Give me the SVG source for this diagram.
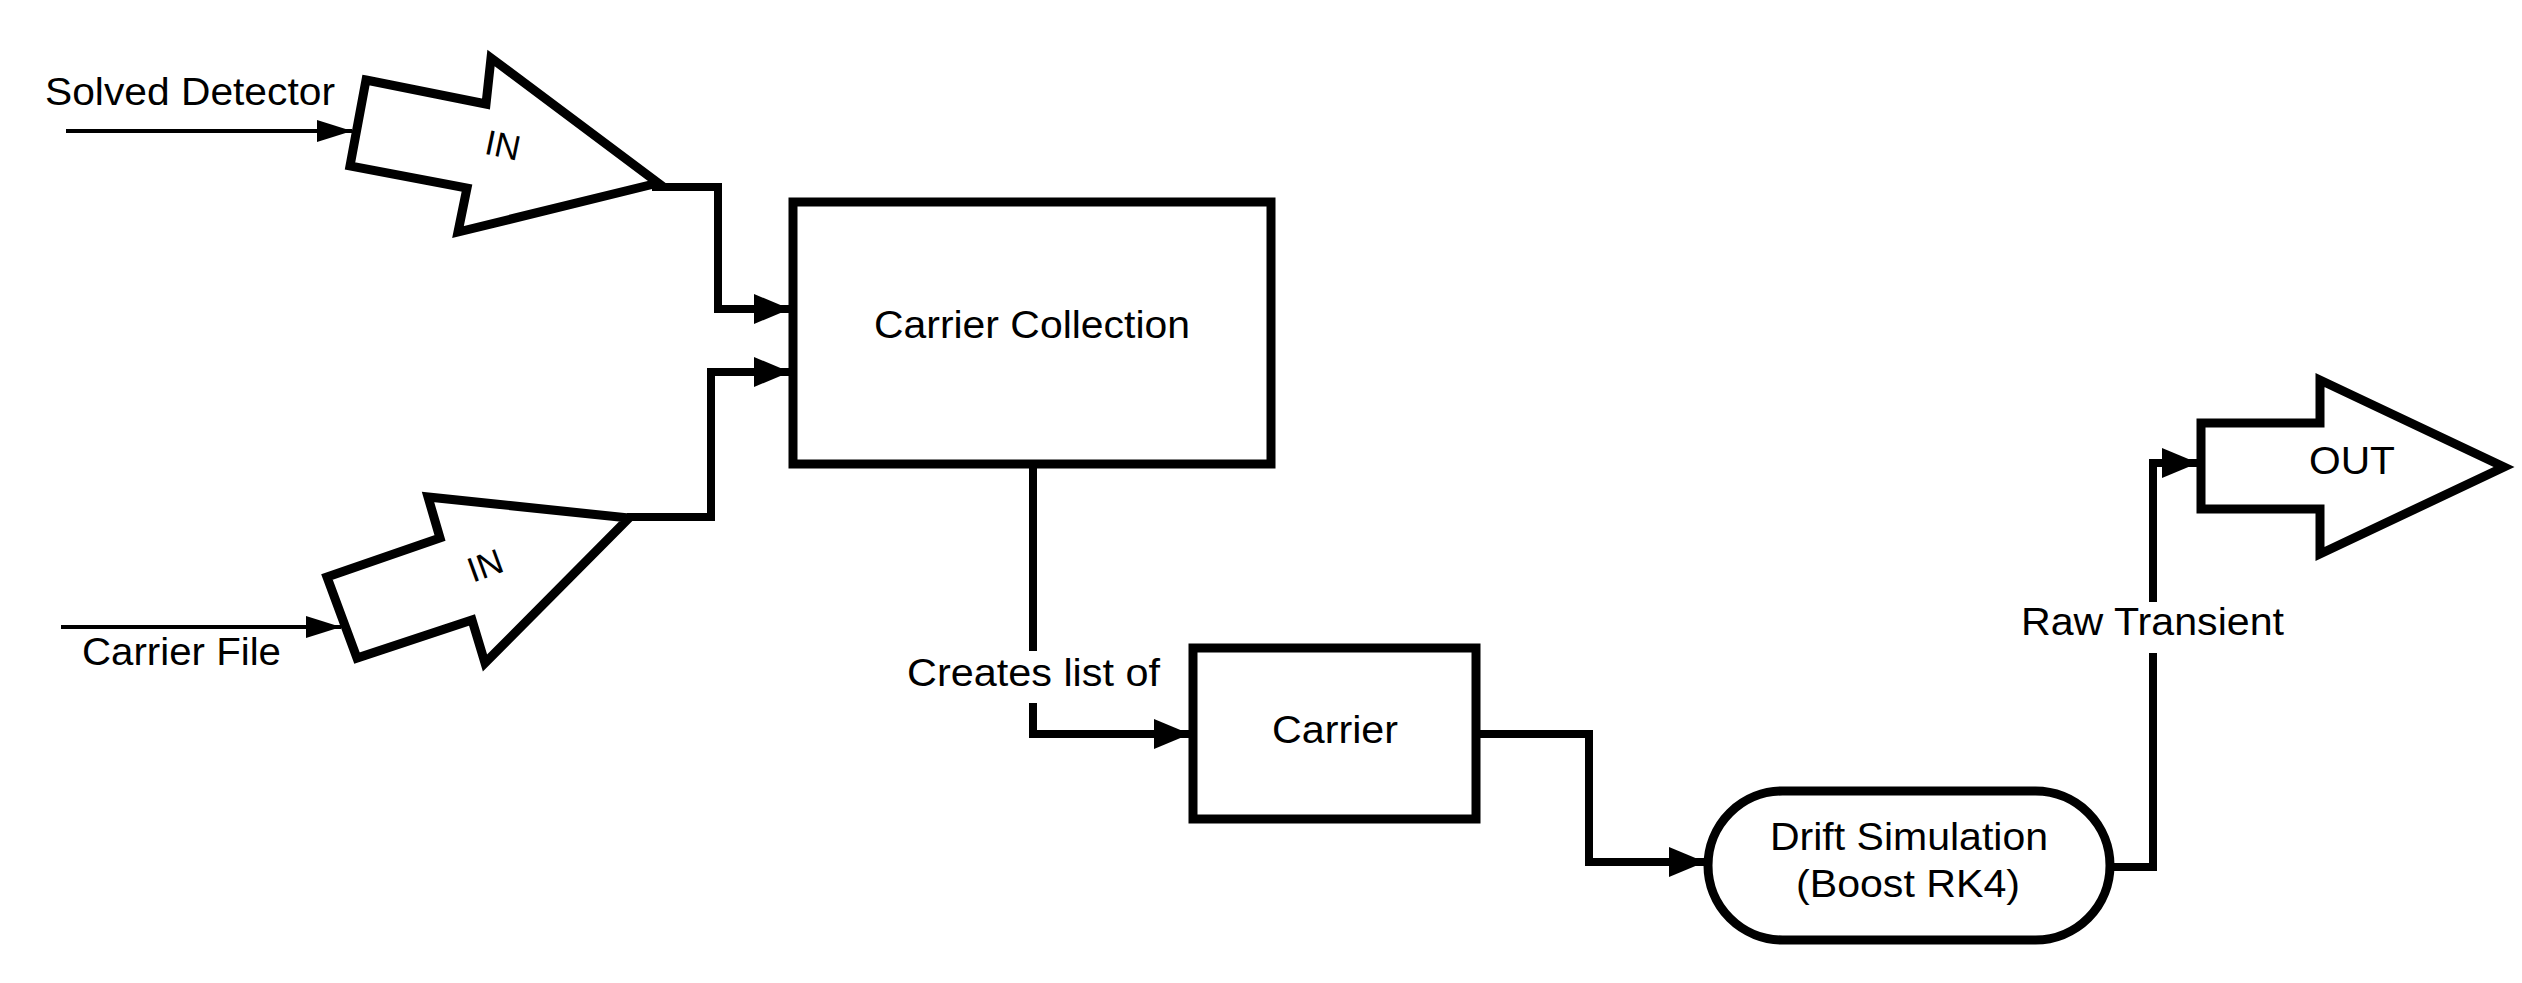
<svg xmlns="http://www.w3.org/2000/svg" width="2522" height="983" viewBox="0 0 2522 983">
<style>
  .node { fill: #ffffff; stroke: #000000; stroke-width: 9; stroke-linejoin: miter; }
  .conn { fill: none; stroke: #000000; stroke-width: 8; stroke-linejoin: miter; }
  .thin { fill: none; stroke: #000000; stroke-width: 4; }
  .txt { font-family: "Liberation Sans", Arial, sans-serif; font-size: 38px; fill: #000000; text-anchor: middle; }
  .in { font-family: "Liberation Sans", Arial, sans-serif; font-size: 35px; fill: #000000; text-anchor: middle; }
  .gap { fill: #ffffff; stroke: none; }
</style>
<defs>
  <marker id="ah" viewBox="0 0 36 30" refX="36" refY="15" markerWidth="36" markerHeight="30" markerUnits="userSpaceOnUse" orient="auto">
    <path d="M0,0 L36,15 L0,30 Z" fill="#000000"/>
  </marker>
  <marker id="ahs" viewBox="0 0 35 22" refX="35" refY="11" markerWidth="35" markerHeight="22" markerUnits="userSpaceOnUse" orient="auto">
    <path d="M0,0 L35,11 L0,22 Z" fill="#000000"/>
  </marker>
</defs>
<rect x="0" y="0" width="2522" height="983" fill="#ffffff"/>

<g id="connectors">
  <path class="thin" d="M66,131 H352" marker-end="url(#ahs)"/>
  <path class="thin" d="M61,627 H341" marker-end="url(#ahs)"/>
  <path class="conn" d="M652,187 H718 V309 H790" marker-end="url(#ah)"/>
  <path class="conn" d="M627,517 H711 V372 H790" marker-end="url(#ah)"/>
  <path class="conn" d="M1033,468 V734 H1190" marker-end="url(#ah)"/>
  <rect class="gap" x="900" y="651" width="268" height="52"/>
  <text class="txt" x="1033.5" y="686" textLength="253" lengthAdjust="spacingAndGlyphs">Creates list of</text>
  <path class="conn" d="M1476,734 H1589 V862 H1705" marker-end="url(#ah)"/>
  <path class="conn" d="M2110,867 H2153 V463 H2198" marker-end="url(#ah)"/>
  <rect class="gap" x="2016" y="602" width="274" height="51"/>
  <text class="txt" x="2152.5" y="635" textLength="263" lengthAdjust="spacingAndGlyphs">Raw Transient</text>
  <text class="txt" x="190" y="105" textLength="290" lengthAdjust="spacingAndGlyphs">Solved Detector</text>
  <text class="txt" x="181.5" y="665" textLength="199" lengthAdjust="spacingAndGlyphs">Carrier File</text>
</g>

<g id="in-solved-detector">
  <polygon class="node" points="366,80 486,104 491,58 658,183 458,232 467,188 350,166"/>
  <text class="in" transform="translate(503,145) rotate(12)" y="12.5">IN</text>
</g>

<g id="in-carrier-file">
  <polygon class="node" points="327,577 440,538 428,497 629,518 485,663 472,620 357,658"/>
  <text class="in" transform="translate(485,565) rotate(-20)" y="12.5">IN</text>
</g>

<g id="carrier-collection">
  <rect class="node" x="793" y="202" width="478" height="262"/>
  <text class="txt" x="1032" y="338" textLength="316" lengthAdjust="spacingAndGlyphs">Carrier Collection</text>
</g>

<g id="carrier">
  <rect class="node" x="1193" y="648" width="283" height="171"/>
  <text class="txt" x="1335" y="743" textLength="126" lengthAdjust="spacingAndGlyphs">Carrier</text>
</g>

<g id="drift-simulation">
  <rect class="node" x="1708" y="791" width="402" height="149" rx="74.5" ry="74.5"/>
  <text class="txt" x="1909" y="850" textLength="278" lengthAdjust="spacingAndGlyphs">Drift Simulation</text>
  <text class="txt" x="1908" y="897" textLength="224" lengthAdjust="spacingAndGlyphs">(Boost RK4)</text>
</g>

<g id="out">
  <polygon class="node" points="2201,423 2320,423 2320,380 2504,467 2320,554 2320,509 2201,509"/>
  <text class="txt" x="2352" y="474" textLength="86" lengthAdjust="spacingAndGlyphs">OUT</text>
</g>
</svg>
